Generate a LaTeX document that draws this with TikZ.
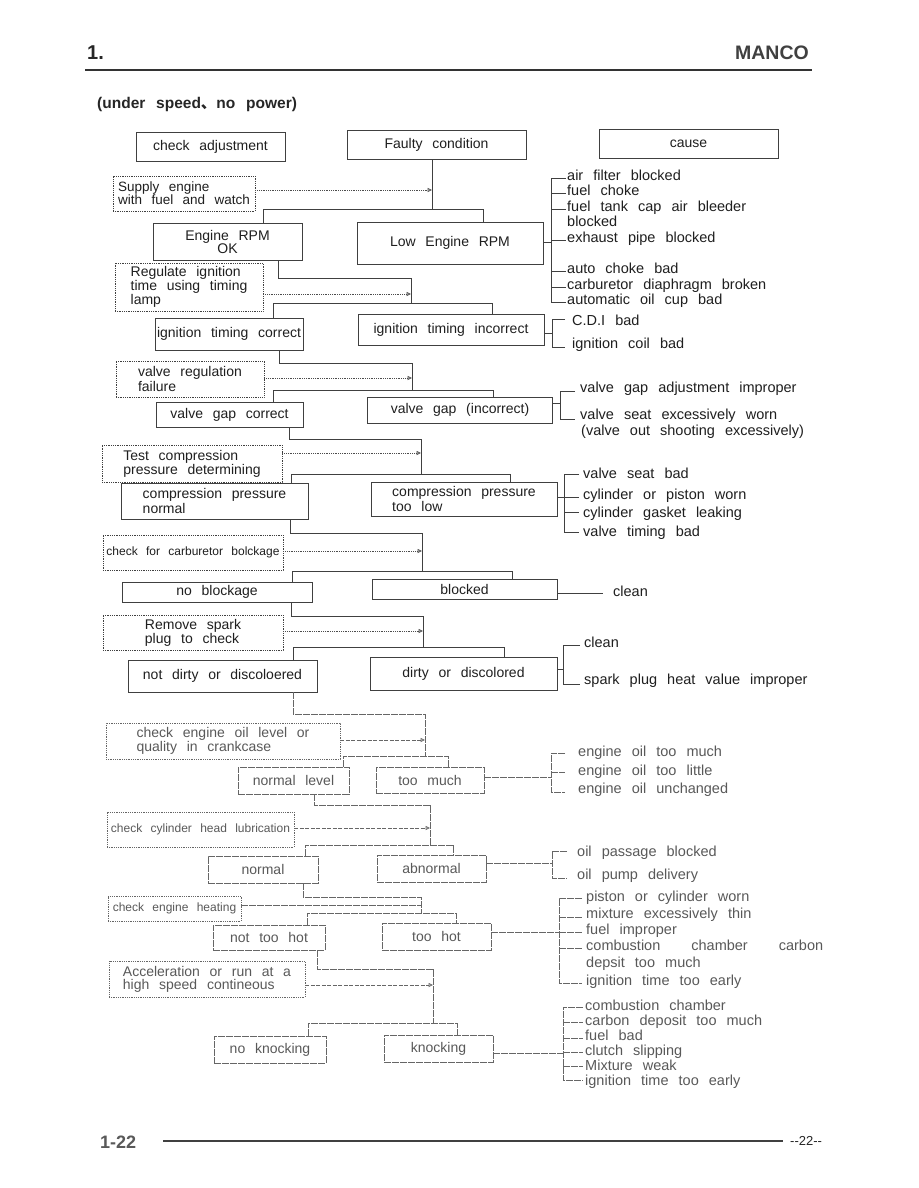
\documentclass[tikz,border=0pt]{standalone}
\usepackage{fontspec}
\setmainfont{Liberation Sans}[WordSpace=2.5]
\newfontfamily\cjkfont{Noto Sans CJK SC}
\usetikzlibrary{arrows.meta}
\newcommand\fsz[1]{\fontsize{#1}{13}\selectfont}
% prev node, x of drop, y of turn, x of vertical, y of split, left node, x left, right node, x right
\newcommand\mystage[9]{%
  \draw[stg] (#1.south -| #2,0) |- (#4,#3) -- (#4,#5);
  \draw[stg] (#6.north -| #7,0) |- (#9,#5) -- (#8.north -| #9,0);
}
\tikzset{
  fbox/.style={draw=black!75, line width=0.8pt, inner sep=2pt, align=center, font=\fsz{14}, text=black!88},
  fboxL/.style={fbox, draw=black!60, dash pattern=on 7pt off 1pt, text=black!65},
  cbox/.style={fbox, densely dotted, align=left},
  cboxL/.style={cbox, draw=black!60, text=black!65},
  conn/.style={draw=black!75, line width=0.8pt},
  connL/.style={draw=black!60, line width=0.8pt, dash pattern=on 7pt off 1pt},
  stg/.style={conn},
  darr/.style={draw=black!70, line width=0.8pt, densely dotted, -{Triangle[open,length=4.5pt,width=4pt]}},
  darrL/.style={draw=black!60, line width=0.8pt, dash pattern=on 4pt off 1.5pt, -{Triangle[open,length=4.5pt,width=4pt]}},
  ctext/.style={anchor=base west, inner sep=0pt, font=\fsz{14.5}, text=black!88},
  ctextL/.style={ctext, text=black!65},
}
\begin{document}
\begin{tikzpicture}[x=1pt,y=-1pt]
\useasboundingbox[fill=white] (0,0) rectangle (918,1188);

% ---------- header ----------
\node[anchor=base west, inner sep=0, font=\bfseries\fontsize{20}{20}\selectfont, text=black!85] (hnum) at (87,60) {1.};
\node[anchor=base east, inner sep=0, font=\bfseries\fontsize{19.5}{20}\selectfont, text=black!75] (hman) at (809,60) {MANCO};
\draw[line width=2.2pt, black!80] (85,70) -- (812,70);
\node[anchor=base west, inner sep=0, font=\bfseries\fontsize{15.5}{16}\selectfont, text=black!85] (title) at (97,109) {(under speed{\cjkfont 、}no power)};

% ---------- boxes ----------
\node[fbox, minimum width=149, minimum height=29] (adj) at (210.5,146.5) {check adjustment};
\node[fbox, minimum width=179, minimum height=29] (faulty) at (436.5,144.5) {Faulty condition};
\node[fbox, minimum width=179, minimum height=29] (cause) at (688.5,143.5) {cause};

\node[cbox, font=\fsz{13.5}, minimum width=142, minimum height=35] (supply) at (184,193.5) {Supply engine\\with fuel and watch};
\node[fbox, minimum width=149, minimum height=37] (rpmok) at (227.5,241.5) {Engine RPM\\OK};
\node[fbox, minimum width=186, minimum height=42] (lowrpm) at (450,243) {Low Engine RPM};

\node[cbox, minimum width=148, minimum height=48] (regulate) at (189,287) {Regulate ignition\\time using timing\\lamp};
\node[fbox, minimum width=148, minimum height=32] (itc) at (229,334) {ignition timing correct};
\node[fbox, minimum width=186, minimum height=31] (iti) at (451,329.5) {ignition timing incorrect};

\node[cbox, minimum width=148, minimum height=36] (valvereg) at (190,379) {valve regulation\\failure};
\node[fbox, minimum width=147, minimum height=25] (vgc) at (229.5,414.5) {valve gap correct};
\node[fbox, minimum width=185, minimum height=26] (vgi) at (460,410) {valve gap (incorrect)};

\node[cbox, minimum width=180, minimum height=37] (testcomp) at (192,463.5) {Test compression\\pressure determining};
\node[fbox, align=left, minimum width=187, minimum height=36] (cpn) at (214.5,501) {compression pressure\\normal};
\node[fbox, align=left, minimum width=186, minimum height=34] (cpl) at (464,499) {compression pressure\\too low};

\node[cbox, font=\fsz{12}, minimum width=180, minimum height=35] (carb) at (193,552.5) {check for carburetor bolckage};
\node[fbox, minimum width=190, minimum height=20] (nob) at (217,592) {no blockage};
\node[fbox, minimum width=185, minimum height=20] (blocked) at (464.5,589) {blocked};

\node[cbox, minimum width=180, minimum height=35] (spark) at (193,632.5) {Remove spark\\plug to check};
\node[fbox, minimum width=189, minimum height=32] (ndd) at (222.5,676) {not dirty or discoloered};
\node[fbox, minimum width=187, minimum height=33] (dirty) at (463.5,673.5) {dirty or discolored};

\node[cboxL, minimum width=234, minimum height=36] (oil) at (223,741) {check engine oil level or\\quality in crankcase};
\node[fboxL, minimum width=111, minimum height=27] (nlevel) at (293.5,780.5) {normal level};
\node[fboxL, minimum width=108, minimum height=26] (toomuch) at (430,780) {too much};

\node[cboxL, font=\fsz{12}, minimum width=187, minimum height=35] (cyl) at (200.5,829.5) {check cylinder head lubrication};
\node[fboxL, minimum width=110, minimum height=27] (normal) at (263,869.5) {normal};
\node[fboxL, minimum width=109, minimum height=27] (abnormal) at (431.5,868.5) {abnormal};

\node[cboxL, font=\fsz{12}, minimum width=133, minimum height=25] (heat) at (174.5,908.5) {check engine heating};
\node[fboxL, minimum width=112, minimum height=25] (nth) at (269,937.5) {not too hot};
\node[fboxL, minimum width=109, minimum height=27] (toohot) at (436.5,936.5) {too hot};

\node[cboxL, minimum width=196, minimum height=36] (accel) at (207,979) {Acceleration or run at a\\high speed contineous};
\node[fboxL, minimum width=112, minimum height=27] (nokn) at (270,1049.5) {no knocking};
\node[fboxL, minimum width=109, minimum height=27] (knock) at (438.5,1048.5) {knocking};

% ---------- flow connectors ----------
\coordinate (s1) at (432,209);
\draw[conn] (faulty.south -| s1) -- (s1);
\draw[conn] (rpmok.north -| 263,0) |- (483,209) -- (lowrpm.north -| 483,0);
\draw[darr] (supply.east |- 0,190) -- (432,190);

\mystage{rpmok}{278}{278}{411}{303}{itc}{273}{iti}{492}
\draw[darr] (regulate.east |- 0,294) -- (411,294);
\mystage{itc}{279}{363}{412}{390}{vgc}{273}{vgi}{493}
\draw[darr] (valvereg.east |- 0,378) -- (412,378);
\mystage{vgc}{289}{439}{421}{474}{cpn}{291}{cpl}{510}
\draw[darr] (testcomp.east |- 0,453) -- (421,453);
\mystage{cpn}{290}{533}{422}{571}{nob}{292}{blocked}{512}
\draw[darr] (carb.east |- 0,551) -- (422,551);
\mystage{nob}{291}{616}{423}{647}{ndd}{293}{dirty}{504}
\draw[darr] (spark.east |- 0,631) -- (423,631);
\tikzset{stg/.style={connL}}
\mystage{ndd}{293}{714}{425}{756}{nlevel}{343}{toomuch}{448}
\draw[darrL] (oil.east |- 0,740) -- (425,740);
\mystage{nlevel}{314}{805}{430}{845}{normal}{305}{abnormal}{453}
\draw[darrL] (cyl.east |- 0,828) -- (430,828);
\mystage{normal}{303}{897}{421}{913}{nth}{307}{toohot}{456}
\draw[connL] (heat.east |- 0,905) -- (421,905);
\mystage{nth}{317}{969}{433}{1023}{nokn}{308}{knock}{457}
\draw[darrL] (accel.east |- 0,985) -- (433,985);

% ---------- causes ----------
% group 1
\draw[conn] (lowrpm.east |- 0,242) -- (551,242);
\draw[conn] (551,178) -- (551,302);
\foreach \yy in {178.7,193.7,209.7,240.3,271.3,287.3,302} \draw[conn] (551,\yy) -- (566,\yy);
\node[ctext] (c1a) at (567,180.7) {air filter blocked};
\node[ctext] (c1b) at (567,195.7) {fuel choke};
\node[ctext] (c1c) at (567,211.7) {fuel tank cap air bleeder};
\node[ctext] (c1d) at (567,226.7) {blocked};
\node[ctext] (c1e) at (567,242.3) {exhaust pipe blocked};
\node[ctext] (c1f) at (567,273.3) {auto choke bad};
\node[ctext] (c1g) at (567,289.3) {carburetor diaphragm broken};
\node[ctext] (c1h) at (567,304) {automatic oil cup bad};

% group 2
\draw[conn] (iti.east |- 0,333) -- (552,333);
\draw[conn] (565,319) -- (552,319) -- (552,347) -- (565,347);
\node[ctext] (c2a) at (572,325) {C.D.I bad};
\node[ctext] (c2b) at (572,348.3) {ignition coil bad};

% group 3
\draw[conn] (vgi.east |- 0,403) -- (560,403);
\draw[conn] (575,391) -- (560,391) -- (560,419) -- (575,419);
\node[ctext] (c3a) at (580,392.7) {valve gap adjustment improper};
\node[ctext] (c3b) at (580,419.3) {valve seat excessively worn};
\node[ctext] (c3c) at (581,435) {(valve out shooting excessively)};

% group 4
\draw[conn] (cpl.east |- 0,497) -- (564,497);
\draw[conn] (579,474) -- (564,474) -- (564,532) -- (579,532);
\draw[conn] (564,497) -- (579,497);
\draw[conn] (564,512) -- (579,512);
\node[ctext] (c4a) at (583,478.5) {valve seat bad};
\node[ctext] (c4b) at (583,499) {cylinder or piston worn};
\node[ctext] (c4c) at (583,517) {cylinder gasket leaking};
\node[ctext] (c4d) at (583,536.5) {valve timing bad};

% group 5
\draw[conn] (blocked.east |- 0,593) -- (603,593);
\node[ctext] (c5a) at (613,596) {clean};

% group 6
\draw[conn] (dirty.east |- 0,669) -- (563,669);
\draw[conn] (580,645) -- (563,645) -- (563,684) -- (580,684);
\node[ctext] (c6a) at (584,647.3) {clean};
\node[ctext] (c6b) at (584,684) {spark plug heat value improper};

% group 7
\draw[connL] (toomuch.east |- 0,777) -- (551,777);
\draw[connL] (565,753) -- (551,753) -- (551,792) -- (565,792);
\draw[connL] (551,772) -- (565,772);
\node[ctextL] (c7a) at (578,756) {engine oil too much};
\node[ctextL] (c7b) at (578,775.7) {engine oil too little};
\node[ctextL] (c7c) at (578,793.3) {engine oil unchanged};

% group 8
\draw[connL] (abnormal.east |- 0,863) -- (552,863);
\draw[connL] (567,851) -- (552,851) -- (552,878) -- (567,878);
\node[ctextL] (c8a) at (577,856.7) {oil passage blocked};
\node[ctextL] (c8b) at (577,879) {oil pump delivery};

% group 9
\draw[connL] (toohot.east |- 0,932) -- (559,932);
\draw[connL] (582,898) -- (559,898) -- (559,983) -- (582,983);
\foreach \yy in {917.5,932,948.3} \draw[connL] (559,\yy) -- (582,\yy);
\node[ctextL] (c9a) at (586,901.7) {piston or cylinder worn};
\node[ctextL] (c9b) at (586,918.3) {mixture excessively thin};
\node[ctextL] (c9c) at (586,934) {fuel improper};
\node[ctextL] (c9d) at (586,950.7) {\makebox[237pt][s]{combustion chamber carbon}};
\node[ctextL] (c9e) at (586,967.3) {depsit too much};
\node[ctextL] (c9f) at (586,985) {ignition time too early};

% group 10
\draw[connL] (knock.east |- 0,1053) -- (563,1053);
\draw[connL] (583,1007) -- (563,1007) -- (563,1080) -- (583,1080);
\foreach \yy in {1022.7,1038.3,1052,1066.7} \draw[connL] (563,\yy) -- (583,\yy);
\node[ctextL] (c10a) at (585,1010) {combustion chamber};
\node[ctextL] (c10b) at (585,1025) {carbon deposit too much};
\node[ctextL] (c10c) at (585,1040.7) {fuel bad};
\node[ctextL] (c10d) at (585,1055.7) {clutch slipping};
\node[ctextL] (c10e) at (585,1070.7) {Mixture weak};
\node[ctextL] (c10f) at (585,1085) {ignition time too early};

% ---------- footer ----------
\node[anchor=base west, inner sep=0, font=\bfseries\fontsize{18}{18}\selectfont, text=black!65] (fnum) at (100,1148) {1-22};
\draw[line width=1.5pt, black!75] (163,1141) -- (783,1141);
\node[anchor=base west, inner sep=0, font=\fsz{13}, text=black!85] (fpg) at (790,1145) {{-}{-}22{-}{-}};
\end{tikzpicture}
\end{document}
